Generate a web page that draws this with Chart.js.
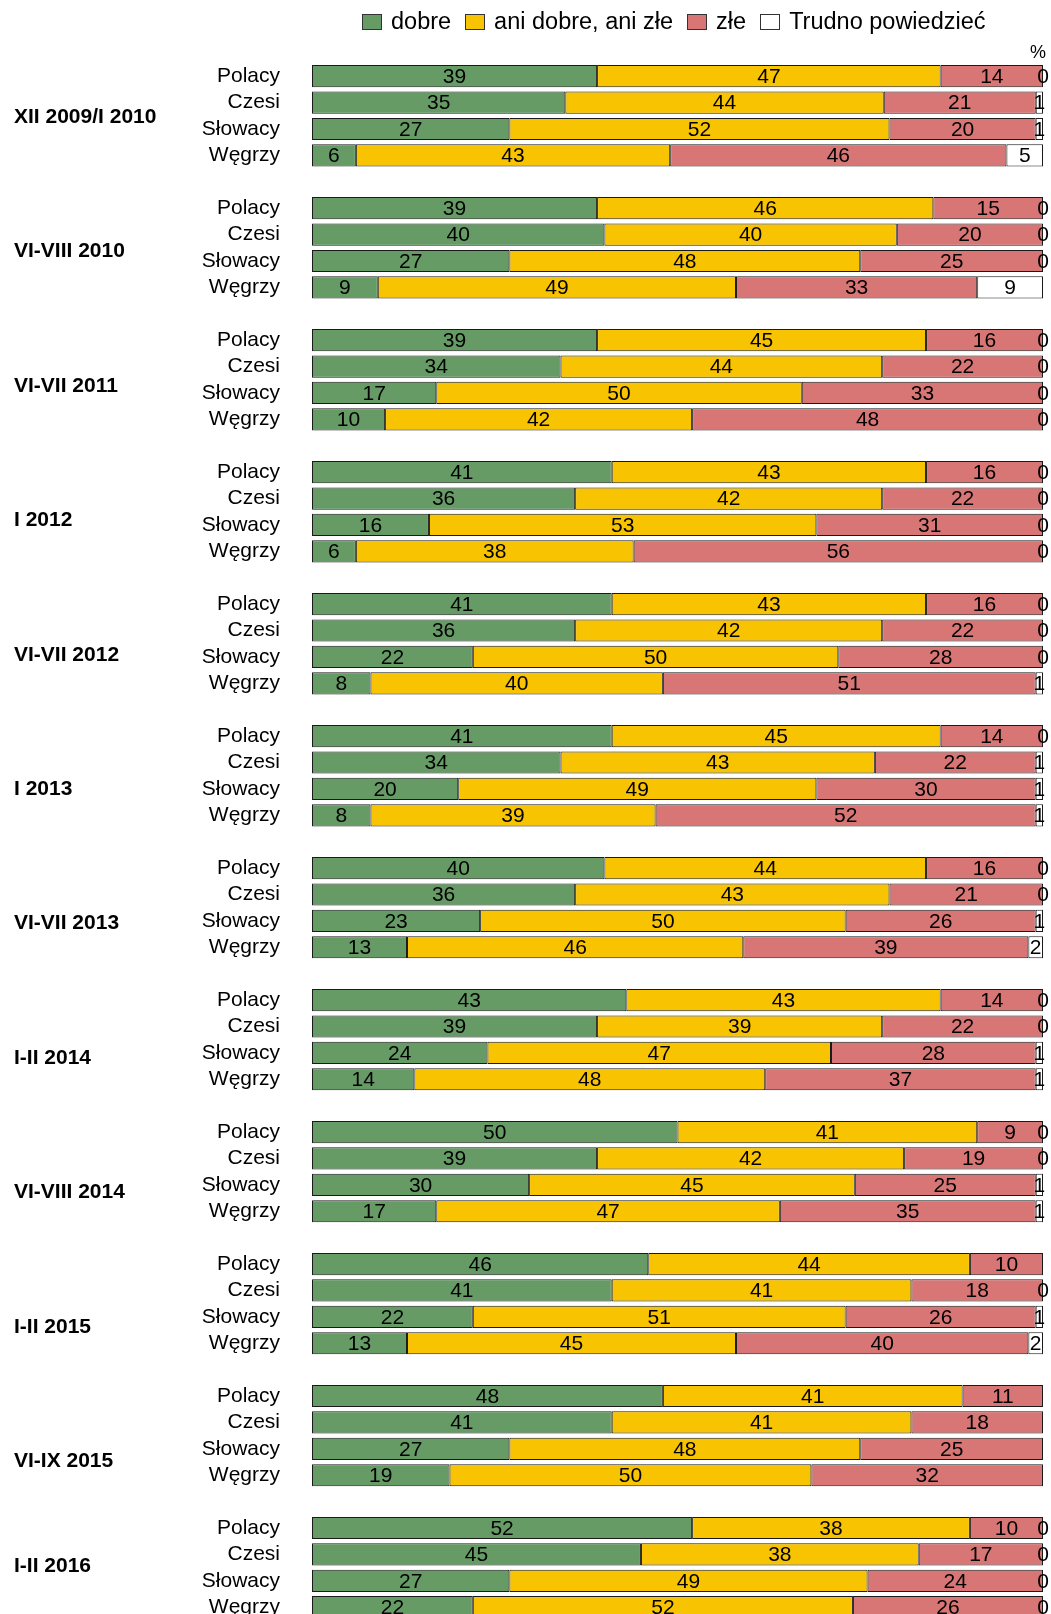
<!DOCTYPE html>
<html>
<head>
<meta charset="utf-8">
<script src="https://cdn.jsdelivr.net/npm/chart.js@4/dist/chart.umd.min.js"></script>
<style>
    body { margin: 0; overflow: hidden; background: #fff; font-family: "Liberation Sans", Arial, sans-serif; }
    #wrap { position: relative; width: 1051px; height: 1665px; }
    #opinionChart { display: block; width: 1051px; height: 1665px; }
    #legend { position: absolute; left: 362px; top: 8px; display: flex; align-items: center; font-size: 23.5px; color: #000; white-space: nowrap; }
    #legend .item { display: flex; align-items: center; margin-right: 14px; }
    #legend .box { width: 20px; height: 16px; border: 1px solid #333; margin-right: 9px; box-sizing: border-box; }
</style>
</head>
<body>
<div id="wrap">
    <div id="legend"></div>
    <canvas id="opinionChart" width="1051" height="1665"></canvas>
</div>
<script>
// survey waves and groups
const waves = ['XII 2009/I 2010', 'VI-VIII 2010', 'VI-VII 2011', 'I 2012', 'VI-VII 2012', 'I 2013',
    'VI-VII 2013', 'I-II 2014', 'VI-VIII 2014', 'I-II 2015', 'VI-IX 2015', 'I-II 2016'];
const nations = ['Polacy', 'Czesi', 'Słowacy', 'Węgrzy'];

// values per wave, in order Polacy, Czesi, Słowacy, Węgrzy
const dobre = [
    [39, 35, 27, 6], [39, 40, 27, 9], [39, 34, 17, 10], [41, 36, 16, 6],
    [41, 36, 22, 8], [41, 34, 20, 8], [40, 36, 23, 13], [43, 39, 24, 14],
    [50, 39, 30, 17], [46, 41, 22, 13], [48, 41, 27, 19], [52, 45, 27, 22]
];
const aniDobreAniZle = [
    [47, 44, 52, 43], [46, 40, 48, 49], [45, 44, 50, 42], [43, 42, 53, 38],
    [43, 42, 50, 40], [45, 43, 49, 39], [44, 43, 50, 46], [43, 39, 47, 48],
    [41, 42, 45, 47], [44, 41, 51, 45], [41, 41, 48, 50], [38, 38, 49, 52]
];
const zle = [
    [14, 21, 20, 46], [15, 20, 25, 33], [16, 22, 33, 48], [16, 22, 31, 56],
    [16, 22, 28, 51], [14, 22, 30, 52], [16, 21, 26, 39], [14, 22, 28, 37],
    [9, 19, 25, 35], [10, 18, 26, 40], [11, 18, 25, 32], [10, 17, 24, 26]
];
const trudno = [
    [0, 1, 1, 5], [0, 0, 0, 9], [0, 0, 0, 0], [0, 0, 0, 0],
    [0, 0, 0, 1], [0, 1, 1, 1], [0, 0, 1, 2], [0, 0, 1, 1],
    [0, 0, 1, 1], [null, 0, 1, 2], [null, null, null, null], [0, 0, 0, 0]
];

const seriesNames = ['dobre', 'ani dobre, ani złe', 'złe', 'Trudno powiedzieć'];
const seriesColors = ['#669b66', '#f8c300', '#d87676', '#ffffff'];
const seriesValues = [dobre, aniDobreAniZle, zle, trudno];

// flatten into rows with an empty row between waves
const labels = [];
const rows = [];
waves.forEach(function(w, wi) {
    nations.forEach(function(n, ni) {
        labels.push(n);
        rows.push({ wave: wi, nation: ni });
    });
    if (wi < waves.length - 1) {
        labels.push('');
        rows.push(null);
    }
});

function rowSum(r) {
    let s = 0;
    seriesValues.forEach(function(v) { s += v[r.wave][r.nation] || 0; });
    return s;
}

const datasets = seriesValues.map(function(vals, si) {
    return {
        label: seriesNames[si],
        backgroundColor: seriesColors[si],
        borderColor: '#1a1a1a',
        borderWidth: 1,
        borderSkipped: false,
        barPercentage: 0.84,
        categoryPercentage: 1.0,
        // bars drawn as share of 100%, labels show the raw value
        raw: rows.map(function(r) { return r ? vals[r.wave][r.nation] : null; }),
        data: rows.map(function(r) {
            if (!r) return null;
            const v = vals[r.wave][r.nation];
            if (v === null) return null;
            return v / rowSum(r) * 100;
        })
    };
});

// html legend
const legendEl = document.getElementById('legend');
seriesNames.forEach(function(name, i) {
    const item = document.createElement('div');
    item.className = 'item';
    const box = document.createElement('span');
    box.className = 'box';
    box.style.background = seriesColors[i];
    item.appendChild(box);
    item.appendChild(document.createTextNode(name));
    legendEl.appendChild(item);
});

const valueLabels = {
    id: 'valueLabels',
    afterDatasetsDraw: function(chart) {
        const ctx = chart.ctx;
        ctx.save();
        ctx.font = '21px "Liberation Sans", Arial, sans-serif';
        ctx.fillStyle = '#000';
        ctx.textAlign = 'center';
        ctx.textBaseline = 'middle';
        chart.data.datasets.forEach(function(ds, di) {
            const meta = chart.getDatasetMeta(di);
            meta.data.forEach(function(bar, j) {
                const v = ds.raw[j];
                if (v === null || v === undefined) return;
                const p = bar.getProps(['x', 'y', 'base'], true);
                ctx.fillText(String(v), (p.x + p.base) / 2, p.y + 1);
            });
        });

        // wave names on the left (they creep down a little wave by wave, last one sits higher)
        const y = chart.scales.y;
        ctx.font = 'bold 21px "Liberation Sans", Arial, sans-serif';
        ctx.textAlign = 'left';
        waves.forEach(function(w, wi) {
            const i = wi * 5;
            const drift = wi < waves.length - 1 ? wi * 2.5 : -2.5;
            const yc = (y.getPixelForValue(i + 1) + y.getPixelForValue(i + 2)) / 2 + drift;
            ctx.fillText(w, 14, yc + 1);
        });

        ctx.font = '18px "Liberation Sans", Arial, sans-serif';
        ctx.textAlign = 'center';
        ctx.fillText('%', chart.chartArea.right - 5, chart.chartArea.top - 10);
        ctx.restore();
    }
};

const chart = new Chart(document.getElementById('opinionChart'), {
    type: 'bar',
    data: { labels: labels, datasets: datasets },
    options: {
        indexAxis: 'y',
        responsive: false,
        maintainAspectRatio: false,
        devicePixelRatio: 1,
        animation: false,
        layout: { padding: { top: 63, right: 8, bottom: 1.5, left: 0 } },
        plugins: {
            legend: { display: false },
            tooltip: { enabled: false }
        },
        scales: {
            x: {
                stacked: true,
                display: false,
                min: 0,
                max: 100
            },
            y: {
                stacked: true,
                grid: { display: false, drawTicks: false },
                border: { display: false },
                ticks: {
                    autoSkip: false,
                    padding: 32,
                    color: '#000',
                    font: { size: 21, family: '"Liberation Sans", Arial, sans-serif' }
                },
                afterFit: function(scale) {
                    scale.width = 312;
                }
            }
        }
    },
    plugins: [valueLabels]
});
</script>
</body>
</html>
